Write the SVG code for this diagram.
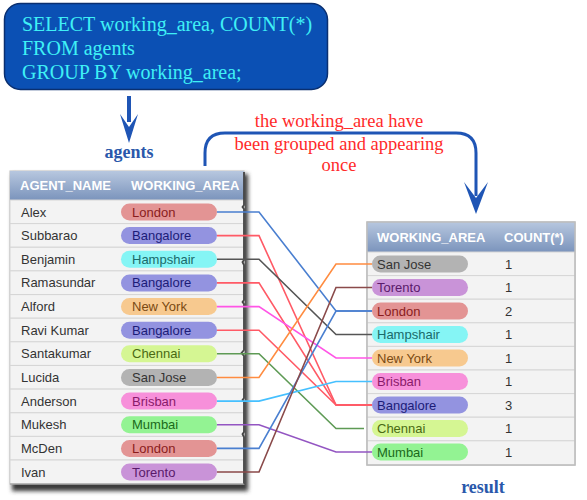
<svg xmlns="http://www.w3.org/2000/svg" width="587" height="500" viewBox="0 0 587 500">
<defs>
<linearGradient id="hdr" x1="0" y1="0" x2="0" y2="1"><stop offset="0" stop-color="#b7c7df"/><stop offset="1" stop-color="#7b94bc"/></linearGradient>
<filter id="blur" x="-10%" y="-10%" width="120%" height="120%"><feGaussianBlur stdDeviation="2.2"/></filter>
</defs>
<style>
.sql{font-family:"Liberation Serif",serif;font-size:20px;fill:#3ff0f6}
.cap{font-family:"Liberation Serif",serif;font-size:18px;font-weight:bold;fill:#2a58ab;text-anchor:middle}
.note{font-family:"Liberation Serif",serif;font-size:18.5px;fill:#ff2a2a;text-anchor:middle}
.hd{font-family:"Liberation Sans",Arial,sans-serif;font-size:13px;font-weight:bold;fill:#ffffff}
.cell{font-family:"Liberation Sans",Arial,sans-serif;font-size:13px;fill:#333}
.row{fill:#f3f3f3;stroke:#d6d6d6;stroke-width:1}
.pt{font-family:"Liberation Sans",Arial,sans-serif;font-size:13px}
.ln{fill:none;stroke-width:1.6}
.blue{fill:#1f55b5}
</style>

<g id="sql-box">
<rect x="4.5" y="3.5" width="323" height="86" rx="16" fill="#0b50b4" stroke="#0a2f70" stroke-width="1.5"/>
<text class="sql" x="22" y="31">SELECT working_area, COUNT(*)</text>
<text class="sql" x="22" y="55">FROM agents</text>
<text class="sql" x="22" y="79">GROUP BY working_area;</text>
</g>

<g id="agents-arrow">
<rect class="blue" x="127" y="96" width="4" height="26"/>
<polygon class="blue" points="120,114 129,127 138,114 129,143"/>
<text class="cap" x="129" y="158">agents</text>
</g>

<g id="group-note">
<path d="M205,166 V153 Q205,133 225,133 H456 Q476,133 476,153 V196" fill="none" stroke="#1f55b5" stroke-width="3"/>
<polygon class="blue" points="464,182 476,198 488,182 476,214"/>
<text class="note" x="339" y="127">the working_area have</text>
<text class="note" x="339" y="150">been grouped and appearing</text>
<text class="note" x="339" y="171">once</text>
</g>

<g id="agents-table">
<rect x="12" y="174" width="236" height="317" fill="#3a3a3a" filter="url(#blur)"/>
<rect x="10" y="171" width="234" height="313" fill="#f3f3f3" stroke="#bdbdbd"/>
<rect x="10" y="171" width="234" height="29" fill="url(#hdr)"/>
<text class="hd" x="20" y="190">AGENT_NAME</text>
<text class="hd" x="131" y="190">WORKING_AREA</text>
<g id="rows-left">
<rect class="row" x="10" y="200" width="234" height="23.6"/>
<rect class="row" x="10" y="223.6" width="234" height="23.6"/>
<rect class="row" x="10" y="247.3" width="234" height="23.6"/>
<rect class="row" x="10" y="270.9" width="234" height="23.6"/>
<rect class="row" x="10" y="294.6" width="234" height="23.6"/>
<rect class="row" x="10" y="318.2" width="234" height="23.6"/>
<rect class="row" x="10" y="341.8" width="234" height="23.6"/>
<rect class="row" x="10" y="365.5" width="234" height="23.6"/>
<rect class="row" x="10" y="389.1" width="234" height="23.6"/>
<rect class="row" x="10" y="412.8" width="234" height="23.6"/>
<rect class="row" x="10" y="436.4" width="234" height="23.6"/>
<rect class="row" x="10" y="460" width="234" height="23.6"/>
</g>
<path d="M244,172 V205 L242.5,207 L244,209 V260 L242.5,262 L244,265 V300 L242.5,302 L244,304 V350 L241.5,353 L244,356 V398 L242.5,400 L244,402 V432 L242.5,434 L244,437 V484" fill="none" stroke="#444" stroke-width="1.8"/>
<line x1="10" y1="484" x2="244" y2="484" stroke="#999"/>
<text class="cell" x="21" y="216.5">Alex</text>
<text class="cell" x="21" y="240.1">Subbarao</text>
<text class="cell" x="21" y="263.8">Benjamin</text>
<text class="cell" x="21" y="287.4">Ramasundar</text>
<text class="cell" x="21" y="311.1">Alford</text>
<text class="cell" x="21" y="334.7">Ravi Kumar</text>
<text class="cell" x="21" y="358.3">Santakumar</text>
<text class="cell" x="21" y="382">Lucida</text>
<text class="cell" x="21" y="405.6">Anderson</text>
<text class="cell" x="21" y="429.3">Mukesh</text>
<text class="cell" x="21" y="452.9">McDen</text>
<text class="cell" x="21" y="476.5">Ivan</text>
<g id="pills-left">
<rect x="121" y="203.5" width="96" height="17" rx="8.5" fill="#e39494"/><text class="pt" x="132" y="216.5" fill="#8a1c1c">London</text>
<rect x="121" y="227.1" width="96" height="17" rx="8.5" fill="#9393e0"/><text class="pt" x="132" y="240.1" fill="#1c1c78">Bangalore</text>
<rect x="121" y="250.8" width="96" height="17" rx="8.5" fill="#85f5f5"/><text class="pt" x="132" y="263.8" fill="#1a6a6a">Hampshair</text>
<rect x="121" y="274.4" width="96" height="17" rx="8.5" fill="#9393e0"/><text class="pt" x="132" y="287.4" fill="#1c1c78">Bangalore</text>
<rect x="121" y="298.1" width="96" height="17" rx="8.5" fill="#f7c98f"/><text class="pt" x="132" y="311.1" fill="#7a4a12">New York</text>
<rect x="121" y="321.7" width="96" height="17" rx="8.5" fill="#9393e0"/><text class="pt" x="132" y="334.7" fill="#1c1c78">Bangalore</text>
<rect x="121" y="345.3" width="96" height="17" rx="8.5" fill="#d5f693"/><text class="pt" x="132" y="358.3" fill="#4a6a12">Chennai</text>
<rect x="121" y="369" width="96" height="17" rx="8.5" fill="#b3b3b3"/><text class="pt" x="132" y="382" fill="#333">San Jose</text>
<rect x="121" y="392.6" width="96" height="17" rx="8.5" fill="#f790da"/><text class="pt" x="132" y="405.6" fill="#8a1a6a">Brisban</text>
<rect x="121" y="416.3" width="96" height="17" rx="8.5" fill="#93f393"/><text class="pt" x="132" y="429.3" fill="#1a6a1a">Mumbai</text>
<rect x="121" y="439.9" width="96" height="17" rx="8.5" fill="#e39494"/><text class="pt" x="132" y="452.9" fill="#8a1c1c">London</text>
<rect x="121" y="463.5" width="96" height="17" rx="8.5" fill="#c993d8"/><text class="pt" x="132" y="476.5" fill="#5a1a6a">Torento</text>
</g>
</g>

<g id="result-table">
<rect x="367" y="222" width="208" height="243" fill="#f3f3f3" stroke="#bdbdbd"/>
<rect x="367" y="222" width="208" height="30" fill="url(#hdr)"/>
<text class="hd" x="377" y="242">WORKING_AREA</text>
<text class="hd" x="504" y="242">COUNT(*)</text>
<g id="rows-right">
<rect class="row" x="367" y="252" width="208" height="23.6"/>
<rect class="row" x="367" y="275.6" width="208" height="23.6"/>
<rect class="row" x="367" y="299.2" width="208" height="23.6"/>
<rect class="row" x="367" y="322.8" width="208" height="23.6"/>
<rect class="row" x="367" y="346.4" width="208" height="23.6"/>
<rect class="row" x="367" y="370" width="208" height="23.6"/>
<rect class="row" x="367" y="393.6" width="208" height="23.6"/>
<rect class="row" x="367" y="417.2" width="208" height="23.6"/>
<rect class="row" x="367" y="440.8" width="208" height="24.2"/>
</g>
<rect x="367" y="222" width="208" height="243" fill="none" stroke="#bdbdbd" stroke-width="1.5"/>
<g id="pills-right">
<rect x="372" y="255.5" width="96" height="17" rx="8.5" fill="#b3b3b3"/><text class="pt" x="377" y="268.5" fill="#333">San Jose</text>
<rect x="372" y="279" width="96" height="17" rx="8.5" fill="#c993d8"/><text class="pt" x="377" y="292" fill="#5a1a6a">Torento</text>
<rect x="372" y="302.5" width="96" height="17" rx="8.5" fill="#e39494"/><text class="pt" x="377" y="315.5" fill="#8a1c1c">London</text>
<rect x="372" y="326" width="96" height="17" rx="8.5" fill="#85f5f5"/><text class="pt" x="377" y="339" fill="#1a6a6a">Hampshair</text>
<rect x="372" y="349.5" width="96" height="17" rx="8.5" fill="#f7c98f"/><text class="pt" x="377" y="362.5" fill="#7a4a12">New York</text>
<rect x="372" y="373" width="96" height="17" rx="8.5" fill="#f790da"/><text class="pt" x="377" y="386" fill="#8a1a6a">Brisban</text>
<rect x="372" y="396.5" width="96" height="17" rx="8.5" fill="#9393e0"/><text class="pt" x="377" y="409.5" fill="#1c1c78">Bangalore</text>
<rect x="372" y="420" width="96" height="17" rx="8.5" fill="#d5f693"/><text class="pt" x="377" y="433" fill="#4a6a12">Chennai</text>
<rect x="372" y="443.5" width="96" height="17" rx="8.5" fill="#93f393"/><text class="pt" x="377" y="456.5" fill="#1a6a1a">Mumbai</text>
</g>
<text class="cell" x="505" y="268.5">1</text>
<text class="cell" x="505" y="292">1</text>
<text class="cell" x="505" y="315.5">2</text>
<text class="cell" x="505" y="339">1</text>
<text class="cell" x="505" y="362.5">1</text>
<text class="cell" x="505" y="386">1</text>
<text class="cell" x="505" y="409.5">3</text>
<text class="cell" x="505" y="433">1</text>
<text class="cell" x="505" y="456.5">1</text>
<text class="cap" x="483" y="493">result</text>
</g>

<g id="connectors">
<polyline class="ln" stroke="#4a7fd0" points="217,212 259,212 336,311 372,311"/>
<polyline class="ln" stroke="#ff5a66" points="217,235.6 259,235.6 336,405 372,405"/>
<polyline class="ln" stroke="#555" points="217,259.3 259,259.3 336,334.5 372,334.5"/>
<polyline class="ln" stroke="#ff5a66" points="217,282.9 259,282.9 336,405 372,405"/>
<polyline class="ln" stroke="#ff55e6" points="217,306.6 259,306.6 336,358 372,358"/>
<polyline class="ln" stroke="#ff5a66" points="217,330.2 259,330.2 336,405 372,405"/>
<polyline class="ln" stroke="#5e9a55" points="217,353.8 259,353.8 336,428.5 364,428.5"/>
<polyline class="ln" stroke="#ff8c40" points="217,377.5 259,377.5 336,264 372,264"/>
<polyline class="ln" stroke="#45c0ff" points="217,401.1 259,401.1 336,381.5 372,381.5"/>
<polyline class="ln" stroke="#9355c2" points="217,424.8 259,424.8 336,452 372,452"/>
<polyline class="ln" stroke="#4a7fd0" points="217,448.4 259,448.4 336,311 372,311"/>
<polyline class="ln" stroke="#8a4a4a" points="217,472 259,472 336,287.5 372,287.5"/>
</g>
</svg>
